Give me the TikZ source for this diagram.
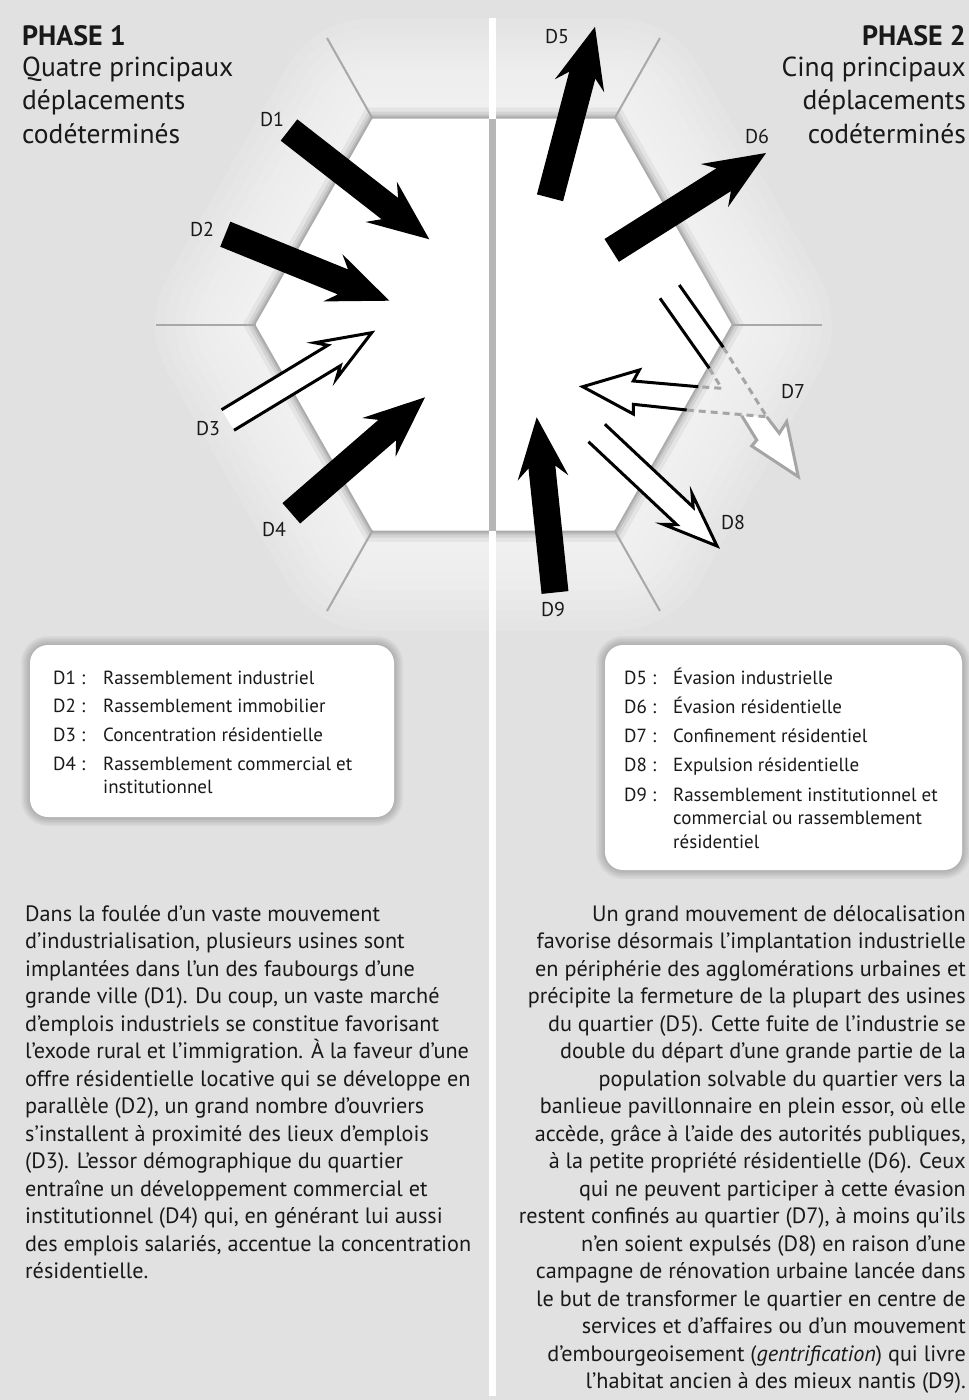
\documentclass[tikz,border=0pt]{standalone}
\usepackage{fontspec}
\setmainfont{PT Sans}
\usetikzlibrary{calc}

\definecolor{bg}{RGB}{225,225,225}
\definecolor{rim}{RGB}{168,168,168}
\definecolor{ink}{RGB}{25,25,25}
\definecolor{faint}{RGB}{165,165,165}
\definecolor{sep}{RGB}{182,182,182}

\newcommand{\shaftw}{13.5pt}
\newcommand{\barbw}{25.5pt}
\newcommand{\headl}{61pt}
\newcommand{\neckl}{50pt}

\newcommand{\blockarrow}[3][]{%
  \coordinate (#2n) at ($(#3)!\neckl!(#2)$);
  \coordinate (#2b) at ($(#3)!\headl!(#2)$);
  \path[#1] ($(#2)!\shaftw!90:(#3)$) -- ($(#2n)!\shaftw!90:(#3)$)
        -- ($(#2b)!\barbw!90:(#3)$) -- (#3)
        -- ($(#2b)!\barbw!-90:(#3)$) -- ($(#2n)!\shaftw!-90:(#3)$)
        -- ($(#2)!\shaftw!-90:(#3)$) -- cycle;}

\newcommand{\hollowarrow}[2]{%
  \blockarrow[fill=white]{#1}{#2}
  \draw[outl] ($(#1)!\shaftw!90:(#2)$) -- ($(#1n)!\shaftw!90:(#2)$)
        -- ($(#1b)!\barbw!90:(#2)$) -- (#2)
        -- ($(#1b)!\barbw!-90:(#2)$) -- ($(#1n)!\shaftw!-90:(#2)$)
        -- ($(#1)!\shaftw!-90:(#2)$);}

\begin{document}
\begin{tikzpicture}[x=1pt,y=-1pt,
        lbl/.style={font=\fontsize{20}{24}\selectfont, text=ink, inner sep=0pt},
        outl/.style={draw=black, line width=3pt},
        dashln/.style={draw=faint, line width=3pt, dash pattern=on 7pt off 5pt},
        legend/.style={fill=white, rounded corners=18pt},
        head/.style={font=\fontsize{27.5}{33.5}\selectfont, text=ink, inner sep=0pt},
        phase/.style={font=\fontsize{28}{33.5}\selectfont\bfseries, text=ink, inner sep=0pt},
        para/.style={font=\fontsize{22.2}{27.5}\selectfont, text=ink, inner sep=0pt},
        key/.style={font=\fontsize{19}{23.5}\selectfont, text=ink, inner sep=0pt}]

        \useasboundingbox (0,0) rectangle (969,1400);
        \fill[bg] (0,0) rectangle (969,1400);

        \coordinate (h1) at (372.5,118.5);
        \coordinate (h2) at (614.5,118.5);
        \coordinate (h3) at (731.5,324.5);
        \coordinate (h4) at (614.5,530.5);
        \coordinate (h5) at (372.5,530.5);
        \coordinate (h6) at (255.5,324.5);

        \coordinate (r1) at (327,38);
        \coordinate (r2) at (660,38);
        \coordinate (r3) at (822,324.5);
        \coordinate (r4) at (660,611);
        \coordinate (r5) at (327,611);
        \coordinate (r6) at (156,324.5);

        \foreach \g in {10,20,...,100}
          \draw[white, opacity=.1, line width=2*\g, line join=round]
            (h1) -- (h2) -- (h3) -- (h4) -- (h5) -- (h6) -- cycle;
        \foreach \w/\o in {22/.05,14/.07,8/.09,4/.1}
          \draw[black, opacity=\o, line width=\w]
            (h1) -- (h2) -- (h3) -- (h4) -- (h5) -- (h6) -- cycle;
        \fill[white] (h1) -- (h2) -- (h3) -- (h4) -- (h5) -- (h6) -- cycle;

        \begin{scope}[rim, line width=2pt]
          \draw (h1) -- (r1);
          \draw (h2) -- (r2);
          \draw (h3) -- (r3);
          \draw (h4) -- (r4);
          \draw (h5) -- (r5);
          \draw (h6) -- (r6);
        \end{scope}

        \coordinate (dv1) at (492,18);
        \coordinate (dv2) at (492,1396);
        \coordinate (dv3) at (492,118.5);
        \coordinate (dv4) at (492,530.5);
        \draw[white, line width=7pt] (dv1) -- (dv2);
        \draw[sep, line width=7pt] (dv3) -- (dv4);

        % phase 1
        \coordinate (d1s) at (289,130);   \coordinate (d1e) at (429.3,239.3);
        \coordinate (d2s) at (225.3,234.2); \coordinate (d2e) at (389.3,300.7);
        \coordinate (d3s) at (227.8,420); \coordinate (d3e) at (371.7,332.7);
        \coordinate (d4s) at (291.3,513.3); \coordinate (d4e) at (425,397.3);

        % phase 2
        \coordinate (d5s) at (550,197.8); \coordinate (d5e) at (595,26.8);
        \coordinate (d6s) at (611.7,250.4); \coordinate (d6e) at (766,153);
        \coordinate (d8s) at (596.7,433); \coordinate (d8e) at (717,546);
        \coordinate (d9s) at (555,592.5); \coordinate (d9e) at (536.7,417.3);

        \blockarrow[fill=black]{d1s}{d1e}
        \blockarrow[fill=black]{d2s}{d2e}
        \blockarrow[fill=black]{d4s}{d4e}
        \blockarrow[fill=black]{d5s}{d5e}
        \blockarrow[fill=black]{d6s}{d6e}
        \blockarrow[fill=black]{d9s}{d9e}

        \begin{scope}
          \renewcommand{\shaftw}{12pt}
          \renewcommand{\barbw}{21pt}
          \renewcommand{\headl}{54pt}
          \renewcommand{\neckl}{44pt}
          \hollowarrow{d3s}{d3e}
          \hollowarrow{d8s}{d8e}
        \end{scope}

        % confinement
        \coordinate (d7a1) at (660,298.3);
        \coordinate (d7a2) at (709.3,368.3);
        \coordinate (d7a3) at (721.7,388.3);
        \coordinate (d7b1) at (679.3,285);
        \coordinate (d7b2) at (723.3,347.3);
        \coordinate (d7f) at (766.7,416.7);
        \coordinate (d7u) at (698.3,386.7);
        \coordinate (d7uj) at (633.3,381);
        \coordinate (d7ub) at (639.3,370);
        \coordinate (d7t) at (582.7,386.7);
        \coordinate (d7lb) at (633.3,414);
        \coordinate (d7lj) at (633.3,404.3);
        \coordinate (d7l) at (686.7,410);
        \coordinate (d7g1) at (741.7,415.7);
        \coordinate (d7g2) at (756.7,440);
        \coordinate (d7g3) at (751.7,446);
        \coordinate (d7gt) at (798.3,476.7);
        \coordinate (d7g4) at (786.7,421.7);
        \coordinate (d7g5) at (779.3,433.3);

        \fill[white] (d7g1) -- (d7g2) -- (d7g3) -- (d7gt) -- (d7g4) -- (d7g5) -- (d7f) -- cycle;
        \draw[faint, line width=3pt] (d7g1) -- (d7g2) -- (d7g3) -- (d7gt) -- (d7g4) -- (d7g5) -- (d7f);
        \draw[dashln] (d7a2) -- (d7a3) -- (d7u);
        \draw[dashln] (d7b2) -- (d7f);
        \draw[dashln] (d7l) -- (d7f);
        \draw[outl] (d7a1) -- (d7a2);
        \draw[outl] (d7b1) -- (d7b2);
        \draw[outl] (d7u) -- (d7uj) -- (d7ub) -- (d7t) -- (d7lb) -- (d7lj) -- (d7l);

        \begin{scope}[every node/.style={lbl}]
          \node (l1) at (272,119) {D1};
          \node (l2) at (202,229) {D2};
          \node (l3) at (208,429) {D3};
          \node (l4) at (274,529) {D4};
          \node (l5) at (557,37) {D5};
          \node (l6) at (757,136) {D6};
          \node (l7) at (793,392) {D7};
          \node (l8) at (733,522) {D8};
          \node (l9) at (553,609) {D9};
        \end{scope}

        % legend boxes
        \coordinate (k1a) at (30,645);  \coordinate (k1b) at (394,817);
        \coordinate (k2a) at (605,645); \coordinate (k2b) at (962,870);
        \foreach \s in {3,6,...,18} {
          \draw[black, opacity=.035, line width=\s, rounded corners=18pt] (k1a) rectangle (k1b);
          \draw[black, opacity=.035, line width=\s, rounded corners=18pt] (k2a) rectangle (k2b);
        }
        \fill[legend] (k1a) rectangle (k1b);
        \fill[legend] (k2a) rectangle (k2b);

        \node[key, anchor=base west] (key1) at (53,684) {%
          \begin{tabular}[t]{@{}p{50pt}@{}l@{}}
            D1 : & Rassemblement industriel\\[5.3pt]
            D2 : & Rassemblement immobilier\\[5.3pt]
            D3 : & Concentration résidentielle\\[5.3pt]
            D4 : & Rassemblement commercial et\\
                 & institutionnel
          \end{tabular}};
        \node[key, anchor=base west] (key2) at (624,684) {%
          \begin{tabular}[t]{@{}p{49pt}@{}l@{}}
            D5 : & Évasion industrielle\\[5.8pt]
            D6 : & Évasion résidentielle\\[5.8pt]
            D7 : & Confinement résidentiel\\[5.8pt]
            D8 : & Expulsion résidentielle\\[5.8pt]
            D9 : & Rassemblement institutionnel et\\
                 & commercial ou rassemblement\\
                 & résidentiel
          \end{tabular}};

        % titles
        \node[phase, anchor=base west] (t1) at (22,45) {PHASE 1};
        \node[head, anchor=base west, align=left] (s1) at (22,143)
          {Quatre principaux\\déplacements\\codéterminés};
        \node[phase, anchor=base east] (t2) at (966,45) {PHASE 2};
        \node[head, anchor=base east, align=right] (s2) at (966,143)
          {Cinq principaux\\déplacements\\codéterminés};

        % texts
        \node[para, anchor=base west, align=left] (p1) at (25,1278.5) {%
          Dans la foulée d’un vaste mouvement\\
          d’industrialisation, plusieurs usines sont\\
          implantées dans l’un des faubourgs d’une\\
          grande ville (D1). Du coup, un vaste marché\\
          d’emplois industriels se constitue favorisant\\
          l’exode rural et l’immigration. À la faveur d’une\\
          offre résidentielle locative qui se développe en\\
          parallèle (D2), un grand nombre d’ouvriers\\
          s’installent à proximité des lieux d’emplois\\
          (D3). L’essor démographique du quartier\\
          entraîne un développement commercial et\\
          institutionnel (D4) qui, en générant lui aussi\\
          des emplois salariés, accentue la concentration\\
          résidentielle.};
        \node[para, anchor=base east, align=right] (p2) at (966,1388.5) {%
          Un grand mouvement de délocalisation\\
          favorise désormais l’implantation industrielle\\
          en périphérie des agglomérations urbaines et\\
          précipite la fermeture de la plupart des usines\\
          du quartier (D5). Cette fuite de l’industrie se\\
          double du départ d’une grande partie de la\\
          population solvable du quartier vers la\\
          banlieue pavillonnaire en plein essor, où elle\\
          accède, grâce à l’aide des autorités publiques,\\
          à la petite propriété résidentielle (D6). Ceux\\
          qui ne peuvent participer à cette évasion\\
          restent confinés au quartier (D7), à moins qu’ils\\
          n’en soient expulsés (D8) en raison d’une\\
          campagne de rénovation urbaine lancée dans\\
          le but de transformer le quartier en centre de\\
          services et d’affaires ou d’un mouvement\\
          d’embourgeoisement (\textit{gentrification}) qui livre\\
          l’habitat ancien à des mieux nantis (D9).};

\end{tikzpicture}
\end{document}
